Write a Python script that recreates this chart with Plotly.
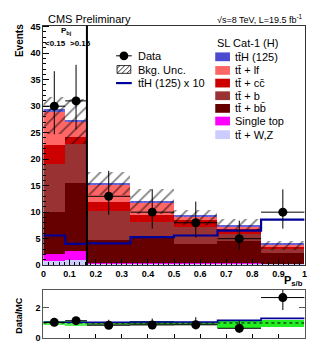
import numpy as np
import plotly.graph_objects as go

# bins of the P_s/b discriminant (first two bins split by P_bj)
bin_edges = [0, 1 / 12, 1 / 6, 1 / 3, 1 / 2, 2 / 3, 5 / 6, 1]
split_edge = 1 / 6

# expected yields per process, bottom of the stack first
ttwz = [0.8, 1.1, 0.4, 0.4, 0.35, 0.3, 0.3]
single_top = [1.4, 1.6, 0.1, 0.1, 0.1, 0.1, 0.05]
tt_bb = [7.9, 12.8, 4.4, 4.8, 3.65, 4.2, 1.95]
tt_b = [9.0, 7.5, 5.4, 3.0, 3.2, 1.4, 0.8]
tt_cc = [3.6, 1.2, 1.7, 1.2, 1.3, 0.8, 0.4]
tt_lf = [6.2, 2.8, 3.3, 2.3, 0.7, 0.5, 0.5]
tth = [0.6, 0.4, 0.3, 0.3, 0.3, 0.4, 0.3]

# background uncertainty band (low / high edge)
unc_low = [24.8, 23.0, 13.4, 9.7, 7.6, 6.6, 2.9]
unc_high = [31.8, 31.5, 17.6, 14.4, 10.4, 8.7, 4.7]

# ttH (125) x 10 overlay
tth_x10 = [5.6, 4.0, 4.1, 5.3, 5.6, 6.5, 8.6]

# data
data = [30, 31, 13, 10, 8, 5, 10]
data_up = [6.6, 6.8, 4.8, 4.3, 4.0, 3.4, 4.3]
data_down = [5.3, 5.4, 3.5, 3.1, 2.8, 2.1, 3.1]

# ratio panel
ratio = [1.04, 1.15, 0.85, 0.87, 0.88, 0.65, 2.67]
ratio_up = [0.22, 0.24, 0.36, 0.42, 0.5, 0.5, 1.1]
ratio_down = [0.18, 0.19, 0.24, 0.28, 0.3, 0.3, 0.82]
band_low = [0.9, 0.85, 0.9, 0.92, 0.9, 0.72, 0.78]
band_high = [1.15, 1.15, 1.12, 1.15, 1.12, 1.18, 1.25]
ratio_tth = [1.05, 1.05, 1.05, 1.06, 1.06, 1.17, 1.30]

W, H = 332, 342
FONT = "Liberation Sans"


def fx(p):
    return p / W


def fy(p):
    return 1 - p / H


edges = np.array(bin_edges)
centers = (edges[:-1] + edges[1:]) / 2
widths = np.diff(edges)

processes = [
    (ttwz, "#ccccff"),
    (single_top, "#ff00ff"),
    (tt_bb, "#660000"),
    (tt_b, "#993333"),
    (tt_cc, "#cc0000"),
    (tt_lf, "#ff6666"),
]

fig = go.Figure()

# stacked backgrounds + signal
base = np.zeros(len(centers))
for vals, col in processes:
    fig.add_bar(x=centers, y=vals, base=base.copy(), width=widths,
                marker=dict(color=col, line_width=0), xaxis="x", yaxis="y")
    base += np.array(vals)
fig.add_bar(x=centers, y=tth, base=base.copy(), width=widths,
            marker=dict(color="#5a5ad8", line_width=0,
                        pattern=dict(shape="x", fgcolor="#b8b8ff", size=3, solidity=0.3)),
            xaxis="x", yaxis="y")

# hatched background uncertainty
fig.add_bar(x=centers, y=np.array(unc_high) - np.array(unc_low), base=unc_low, width=widths,
            marker=dict(color="rgba(0,0,0,0)", line_width=0,
                        pattern=dict(shape="/", fgcolor="black", size=8, solidity=0.22,
                                     fillmode="overlay")),
            xaxis="x", yaxis="y")

# ttH x 10 step line
fig.add_scatter(x=edges, y=tth_x10 + [tth_x10[-1]], mode="lines", line_shape="hv",
                line=dict(color="#000099", width=2.2), xaxis="x", yaxis="y")

# data points
fig.add_scatter(x=centers, y=data, mode="markers",
                marker=dict(color="black", size=9),
                error_y=dict(type="data", array=data_up, arrayminus=data_down,
                             color="black", thickness=1, width=0),
                error_x=dict(type="data", array=widths / 2, color="black", thickness=1, width=0),
                xaxis="x", yaxis="y")

# ratio panel
band_colors = ["#55ee55", "#55ee55", "#3a9a3a", "#2f8f2f", "#3aa03a", "#22ee22", "#22ee22"]
fig.add_bar(x=centers, y=np.array(band_high) - np.array(band_low), base=band_low, width=widths,
            marker=dict(color=band_colors, line_width=0), xaxis="x2", yaxis="y2")
fig.add_scatter(x=[0, 1], y=[1, 1], mode="lines", line=dict(color="black", width=1, dash="dot"),
                xaxis="x2", yaxis="y2")
fig.add_scatter(x=edges, y=ratio_tth + [ratio_tth[-1]], mode="lines", line_shape="hv",
                line=dict(color="#000099", width=1.6), xaxis="x2", yaxis="y2")
fig.add_scatter(x=centers, y=ratio, mode="markers",
                marker=dict(color="black", size=9),
                error_y=dict(type="data", array=ratio_up, arrayminus=ratio_down,
                             color="black", thickness=1, width=0),
                error_x=dict(type="data", array=widths / 2, color="black", thickness=1, width=0),
                xaxis="x2", yaxis="y2")

tickfont = dict(family=FONT, size=9, color="black", weight="bold")
xdom = [fx(33), fx(299)]

fig.update_layout(
    width=W, height=H, margin=dict(l=0, r=0, t=0, b=0),
    paper_bgcolor="white", plot_bgcolor="white",
    barmode="overlay", showlegend=False, bargap=0,
    font=dict(family=FONT, color="black"),
    xaxis=dict(domain=xdom, anchor="y", range=[0, 1], dtick=0.1, ticks="inside", ticklen=6,
               minor=dict(ticks="inside", ticklen=3, dtick=0.02, tickcolor="black"),
               showline=True, mirror=True, linecolor="#333", linewidth=1,
               showgrid=False, zeroline=False, tickfont=tickfont, tickcolor="black"),
    yaxis=dict(domain=[fy(260), fy(14)], anchor="x", range=[0, 45.2], dtick=5,
               ticks="inside", ticklen=6,
               minor=dict(ticks="inside", ticklen=3, dtick=1, tickcolor="black"),
               showline=True, mirror=True, linecolor="#333", linewidth=1,
               showgrid=False, zeroline=False, tickfont=tickfont, tickcolor="black"),
    xaxis2=dict(domain=xdom, anchor="y2", range=[0, 1], dtick=0.1, ticks="inside", ticklen=4,
                showticklabels=False, showline=True, mirror=True, linecolor="#555",
                linewidth=1, showgrid=False, zeroline=False, tickcolor="black"),
    yaxis2=dict(domain=[fy(335), fy(285)], anchor="x2", range=[0, 3.2], tickvals=[0, 2],
                ticks="inside", ticklen=6, showline=True, mirror="ticks", linecolor="#555",
                linewidth=1, showgrid=False, zeroline=False, tickfont=tickfont,
                tickcolor="#555"),
)

shapes = [
    dict(type="line", xref="x", yref="y domain", x0=split_edge, x1=split_edge, y0=0, y1=1,
         line=dict(color="black", width=2), layer="above"),
]
annotations = []


def text(px, py, s, size=11, anchor="left", bold=False, angle=0):
    annotations.append(dict(x=fx(px), y=fy(py), xref="paper", yref="paper", text=s,
                            showarrow=False, xanchor=anchor, yanchor="middle",
                            textangle=angle,
                            font=dict(family=FONT, size=size, color="black",
                                      weight="bold" if bold else "normal")))


text(36, 7, "CMS Preliminary", 11)
text(299, 7, "√s=8 TeV, L=19.5 fb<sup>-1</sup>", 9, anchor="right")
text(8, 29, "Events", 10, anchor="center", bold=True, angle=-90)
text(8, 311, "Data/MC", 9, anchor="center", bold=True, angle=-90)
text(299, 276, "P<sub>s/b</sub>", 11, anchor="right", bold=True)
text(57, 19, "P<sub>bj</sub>", 8, anchor="center", bold=True)
text(45, 32, "<0.15", 8, anchor="center", bold=True)
text(71, 32, ">0.15", 8, anchor="center", bold=True)

# legend 1: data, uncertainty, ttH x 10
shapes.append(dict(type="line", xref="paper", yref="paper", x0=fx(107), x1=fx(123),
                   y0=fy(45), y1=fy(45), line=dict(color="black", width=1)))
shapes.append(dict(type="circle", xref="paper", yref="paper", x0=fx(110.5), x1=fx(119.5),
                   y0=fy(49.5), y1=fy(40.5), fillcolor="black", line=dict(color="black", width=0)))
text(127, 45, "Data")

bx0, bx1, by0, by1 = 108, 122, 55, 63
shapes.append(dict(type="rect", xref="paper", yref="paper", x0=fx(bx0), x1=fx(bx1),
                   y0=fy(by1), y1=fy(by0), line=dict(color="black", width=0.8)))
for c in range(bx0 + by0 + 3, bx1 + by1, 5):
    xa, xb = max(bx0, c - by1), min(bx1, c - by0)
    if xb > xa:
        shapes.append(dict(type="line", xref="paper", yref="paper", x0=fx(xa), y0=fy(c - xa),
                           x1=fx(xb), y1=fy(c - xb), line=dict(color="black", width=0.8)))
text(127, 60, "Bkg. Unc.")

shapes.append(dict(type="line", xref="paper", yref="paper", x0=fx(107), x1=fx(123),
                   y0=fy(73), y1=fy(73), line=dict(color="#000099", width=2.2)))
text(127, 73, "tt\u0304H (125) x 10")

# legend 2: processes
text(208, 32, "SL Cat-1 (H)")
legend_rows = [
    ("tt\u0304H (125)", "#4b4bcf", 46),
    ("tt\u0304 + lf", "#ff6666", 60),
    ("tt\u0304 + cc\u0304", "#cc0000", 73),
    ("tt\u0304 + b", "#993333", 86),
    ("tt\u0304 + bb\u0304", "#660000", 99),
    ("Single top", "#ff00ff", 112),
    ("tt\u0304 + W,Z", "#ccccff", 126),
]
for label, col, yy in legend_rows:
    shapes.append(dict(type="rect", xref="paper", yref="paper", x0=fx(208), x1=fx(223),
                       y0=fy(yy + 4.5), y1=fy(yy - 4.5), fillcolor=col,
                       line=dict(color=col, width=0)))
    text(226, yy, label)

fig.update_layout(shapes=shapes, annotations=annotations)
fig.write_html("out.html")
